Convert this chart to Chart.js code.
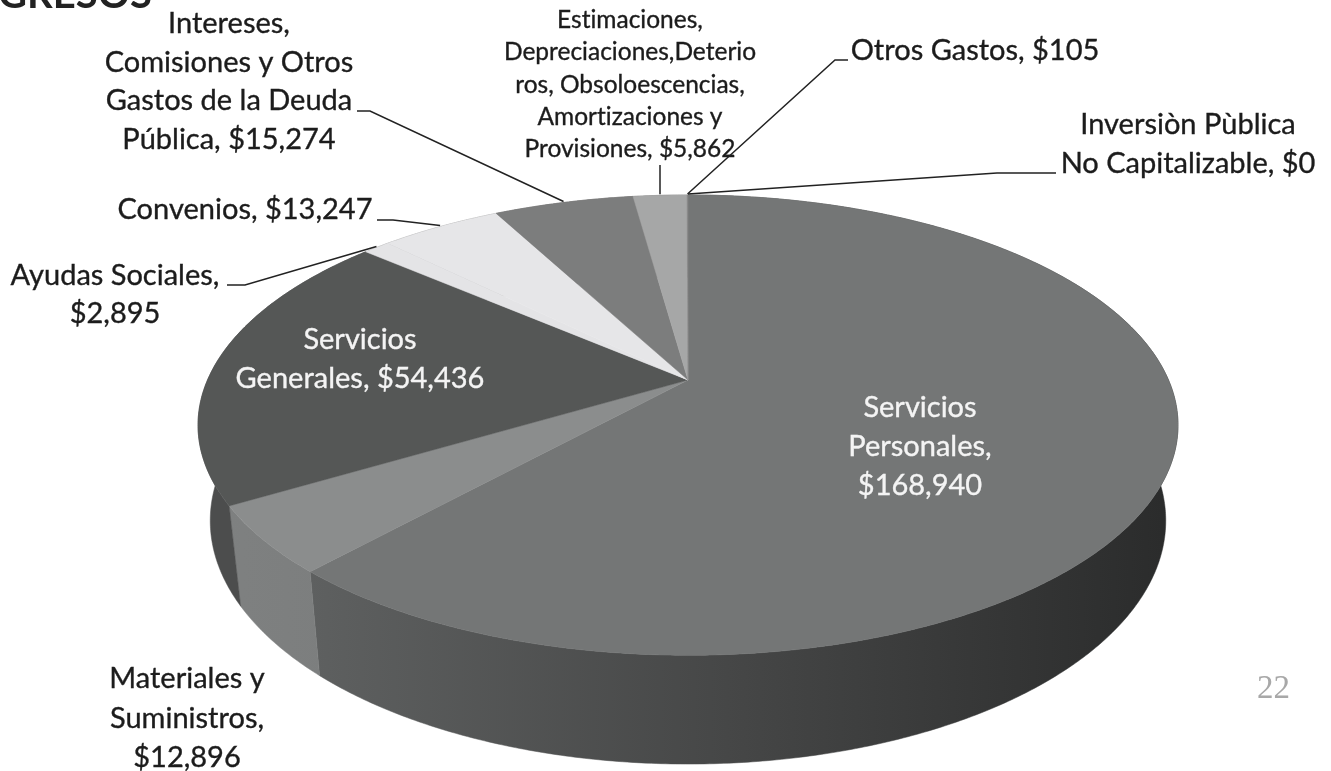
<!DOCTYPE html>
<html lang="es">
<head>
<meta charset="utf-8">
<title>Egresos</title>
<script src="https://cdn.jsdelivr.net/npm/chart.js@4"></script>
<style>
    html, body { margin: 0; padding: 0; background: #fff; }
    canvas { display: block; }
</style>
</head>
<body>
<canvas id="egresos-chart" width="1331" height="771"></canvas>
<script>
// data
const categories = [
    'Servicios Personales', 'Materiales y Suministros', 'Servicios Generales',
    'Ayudas Sociales', 'Convenios', 'Intereses, Comisiones y Otros Gastos de la Deuda Pública',
    'Estimaciones, Depreciaciones,Deterioros, Obsoloescencias, Amortizaciones y Provisiones',
    'Otros Gastos', 'Inversiòn Pùblica No Capitalizable'
];
const amounts = [168940, 12896, 54436, 2895, 13247, 15274, 5862, 105, 0];
const pageTitle = 'GRESOS';
const pageNumber = '22';

// slice colours: top face, wall stops (left to right)
const faceColors = ['#747676', '#8b8d8d', '#555756', '#e4e4e6', '#e6e6e8', '#7c7d7d', '#a6a7a7', '#8a8a8a', '#8a8a8a'];
const wallColors = [
    ['#5e6060', '#454646', '#2a2b2b'],
    ['#7f8181', '#747676', '#747676'],
    ['#4c4d4d', '#4c4d4d', '#4c4d4d'],
    ['#888888', '#888888', '#888888'],
    ['#888888', '#888888', '#888888'],
    ['#666666', '#666666', '#666666'],
    ['#777777', '#777777', '#777777'],
    ['#777777', '#777777', '#777777'],
    ['#777777', '#777777', '#777777']
];

// how the flat pie is tilted
const flatten = 0.4606;
const perspective = 0.196;
const wallDepth = 93;
const bottomScale = 0.975;

// wrapped label text, index into amounts, placement
const money = v => '$' + v.toLocaleString('en-US');
const labelBlocks = [
    { i: 0, lines: ['Servicios', 'Personales,', '{v}'], x: 920, y: [417, 456, 495], size: 29, color: '#f4f4f4' },
    { i: 1, lines: ['Materiales y', 'Suministros,', '{v}'], x: 187, y: [688, 728, 767], size: 29 },
    { i: 2, lines: ['Servicios', 'Generales, {v}'], x: 360, y: [349, 388], size: 29, color: '#f4f4f4' },
    { i: 3, lines: ['Ayudas Sociales,', '{v}'], x: 115, y: [285, 323], size: 29, leader: [[227, 285], [245, 285]] },
    { i: 4, lines: ['Convenios, {v}'], x: 245, y: [219], size: 29, leader: [[377, 220], [393, 220]] },
    { i: 5, lines: ['Intereses,', 'Comisiones y Otros', 'Gastos de la Deuda', 'Pública, {v}'], x: 229, y: [33, 72, 110, 149], size: 29, leader: [[357, 111], [370, 111]] },
    { i: 6, lines: ['Estimaciones,', 'Depreciaciones,Deterio', 'ros, Obsoloescencias,', 'Amortizaciones y', 'Provisiones, {v}'], x: 630, y: [28, 60, 93, 125, 157], size: 24.5, leader: [[660, 165]] },
    { i: 7, lines: ['Otros Gastos, {v}'], x: 975, y: [60], size: 29, leader: [[848, 60], [835, 60]] },
    { i: 8, lines: ['Inversiòn Pùblica', 'No Capitalizable, {v}'], x: 1188, y: [134, 173], size: 29, leader: [[1056, 173], [997, 173]] }
];

function project(arc, angle, drop) {
    const k = 1 - perspective * Math.sin(angle);
    const shrink = drop > 0 ? bottomScale : 1;
    return {
        x: arc.x + shrink * arc.outerRadius * Math.cos(angle) / k,
        y: arc.y + (shrink * arc.outerRadius * flatten * Math.sin(angle) + drop) / k
    };
}

function tracePoints(ctx, arc, from, to, drop, first) {
    const steps = Math.max(2, Math.ceil(Math.abs(to - from) * 120));
    for (let s = 0; s <= steps; s++) {
        const a = from + (to - from) * s / steps;
        const p = project(arc, a, drop);
        if (first && s === 0) ctx.moveTo(p.x, p.y);
        else ctx.lineTo(p.x, p.y);
    }
}

const tiltedPie = {
    id: 'tiltedPie',
    beforeDatasetDraw(chart, args) {
        const ctx = chart.ctx;
        const arcs = args.meta.data;
        const left = arcs[0].x - arcs[0].outerRadius * 1.02;
        const right = arcs[0].x + arcs[0].outerRadius * 1.02;

        // walls first, the faces cover whatever is behind
        arcs.forEach((arc, i) => {
            if (arc.endAngle - arc.startAngle <= 0) return;
            const stops = wallColors[i];
            const x0 = Math.min(project(arc, arc.startAngle, 0).x, project(arc, arc.endAngle, 0).x);
            const grad = ctx.createLinearGradient(i === 0 ? x0 : left, 0, right, 0);
            grad.addColorStop(0, stops[0]);
            grad.addColorStop(0.5, stops[1]);
            grad.addColorStop(1, stops[2]);
            ctx.beginPath();
            tracePoints(ctx, arc, arc.startAngle, arc.endAngle, 0, true);
            tracePoints(ctx, arc, arc.endAngle, arc.startAngle, wallDepth, false);
            ctx.closePath();
            ctx.fillStyle = grad;
            ctx.strokeStyle = grad;
            ctx.lineWidth = 0.5;
            ctx.fill();
            ctx.stroke();
        });

        arcs.forEach((arc, i) => {
            if (arc.endAngle - arc.startAngle <= 0) return;
            ctx.beginPath();
            ctx.moveTo(arc.x, arc.y);
            tracePoints(ctx, arc, arc.startAngle, arc.endAngle, 0, false);
            ctx.closePath();
            ctx.fillStyle = faceColors[i];
            ctx.strokeStyle = faceColors[i];
            ctx.lineWidth = 0.5;
            ctx.fill();
            ctx.stroke();
        });
        return false;
    },
    afterDraw(chart) {
        const ctx = chart.ctx;
        const arcs = chart.getDatasetMeta(0).data;
        ctx.save();
        ctx.textAlign = 'center';
        ctx.textBaseline = 'alphabetic';
        ctx.textRendering = 'optimizeSpeed';

        labelBlocks.forEach(block => {
            if (block.leader) {
                const arc = arcs[block.i];
                const end = project(arc, (arc.startAngle + arc.endAngle) / 2, 0);
                ctx.beginPath();
                block.leader.forEach((p, n) => n === 0 ? ctx.moveTo(p[0], p[1]) : ctx.lineTo(p[0], p[1]));
                ctx.lineTo(end.x, end.y - 1);
                ctx.strokeStyle = '#222';
                ctx.lineWidth = 1.5;
                ctx.stroke();
            }
            ctx.font = block.size + 'px Lato';
            ctx.fillStyle = block.color || '#1c1c1c';
            ctx.strokeStyle = ctx.fillStyle;
            ctx.lineWidth = 0.35;
            block.lines.forEach((line, n) => {
                const text = line.replace('{v}', money(amounts[block.i]));
                ctx.fillText(text, block.x, block.y[n]);
                ctx.strokeText(text, block.x, block.y[n]);
            });
        });

        // cut off page heading and page number of the scanned slide
        ctx.textAlign = 'left';
        ctx.font = 'bold 40px Lato';
        ctx.fillStyle = '#222';
        ctx.fillText(pageTitle, -2, 8);
        ctx.font = '33px "Liberation Serif"';
        ctx.fillStyle = '#a8a8a8';
        ctx.fillText(pageNumber, 1257, 698);
        ctx.restore();
    }
};

new Chart(document.getElementById('egresos-chart'), {
    type: 'pie',
    data: {
        labels: categories,
        datasets: [{ data: amounts, backgroundColor: faceColors, borderWidth: 0, clip: false }]
    },
    options: {
        responsive: false,
        animation: false,
        radius: 480.5,
        layout: { padding: { left: 45, bottom: 11 } },
        plugins: { legend: { display: false }, tooltip: { enabled: false } }
    },
    plugins: [tiltedPie]
});
</script>
</body>
</html>
